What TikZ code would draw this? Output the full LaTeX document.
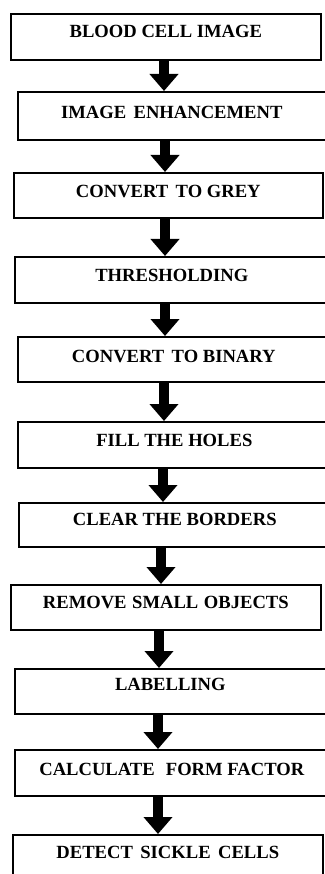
\documentclass[tikz,border=0pt]{standalone}
\usepackage{fontspec}
\setmainfont{Liberation Serif}
\usetikzlibrary{arrows.meta,calc}
\begin{document}
\begin{tikzpicture}[x=1pt,y=-1pt,
  box/.style={draw, line width=1.6pt, inner sep=0pt, anchor=north west},
  lbl/.style={anchor=base, font=\fontsize{18.6}{20}\selectfont\bfseries, inner sep=0pt},
  blk/.style={line width=10pt, -{Triangle[width=28pt,length=17pt]}}]
\useasboundingbox (0,0) rectangle (324,874);
\node[box, minimum width=310pt, minimum height=46pt] (b1) at (10,13) {};
\node[box, minimum width=308pt, minimum height=48pt] (b2) at (17,91) {};
\node[box, minimum width=309pt, minimum height=45pt] (b3) at (13,172) {};
\node[box, minimum width=314pt, minimum height=46pt] (b4) at (14,256) {};
\node[box, minimum width=312pt, minimum height=45pt] (b5) at (17,336) {};
\node[box, minimum width=313pt, minimum height=46pt] (b6) at (17,421) {};
\node[box, minimum width=312pt, minimum height=44pt] (b7) at (18,502) {};
\node[box, minimum width=310pt, minimum height=45pt] (b8) at (10,584) {};
\node[box, minimum width=311pt, minimum height=45pt] (b9) at (14,668) {};
\node[box, minimum width=314pt, minimum height=46pt] (b10) at (14,749) {};
\node[box, minimum width=310pt, minimum height=50pt] (b11) at (12,834) {};
\node[lbl] (t1) at ($(b1.north)+(0,24.5)$) {BLOOD CELL IMAGE};
\node[lbl] (t2) at ($(b2.north)+(0,27.5)$) {IMAGE\hspace{0.4em}ENHANCEMENT};
\node[lbl] (t3) at ($(b3.north)+(0,25.5)$) {CONVERT\hspace{0.4em}TO GREY};
\node[lbl] (t4) at ($(b4.north)+(0,25.5)$) {THRESHOLDING};
\node[lbl] (t5) at ($(b5.north)+(0,26.5)$) {CONVERT\hspace{0.4em}TO BINARY};
\node[lbl] (t6) at ($(b6.north)+(0,25.5)$) {FILL THE HOLES};
\node[lbl] (t7) at ($(b7.north)+(0,23.5)$) {CLEAR THE BORDERS};
\node[lbl] (t8) at ($(b8.north)+(0,24.5)$) {REMOVE\hspace{0.3em}SMALL\hspace{0.3em}OBJECTS};
\node[lbl] (t9) at ($(b9.north)+(0,22.5)$) {LABELLING};
\node[lbl] (t10) at ($(b10.north)+(0,26.5)$) {CALCULATE\hspace{0.6em}FORM FACTOR};
\node[lbl] (t11) at ($(b11.north)+(0,24.5)$) {DETECT\hspace{0.4em}SICKLE\hspace{0.4em}CELLS};
\draw[blk] (b1.south -| 164,0) -- (b2.north -| 164,0);
\draw[blk] (b2.south -| 165,0) -- (b3.north -| 165,0);
\draw[blk] (b3.south -| 165,0) -- (b4.north -| 165,0);
\draw[blk] (b4.south -| 165,0) -- (b5.north -| 165,0);
\draw[blk] (b5.south -| 164,0) -- (b6.north -| 164,0);
\draw[blk] (b6.south -| 163,0) -- (b7.north -| 163,0);
\draw[blk] (b7.south -| 161,0) -- (b8.north -| 161,0);
\draw[blk] (b8.south -| 159,0) -- (b9.north -| 159,0);
\draw[blk] (b9.south -| 158,0) -- (b10.north -| 158,0);
\draw[blk] (b10.south -| 158,0) -- (b11.north -| 158,0);
\end{tikzpicture}
\end{document}
